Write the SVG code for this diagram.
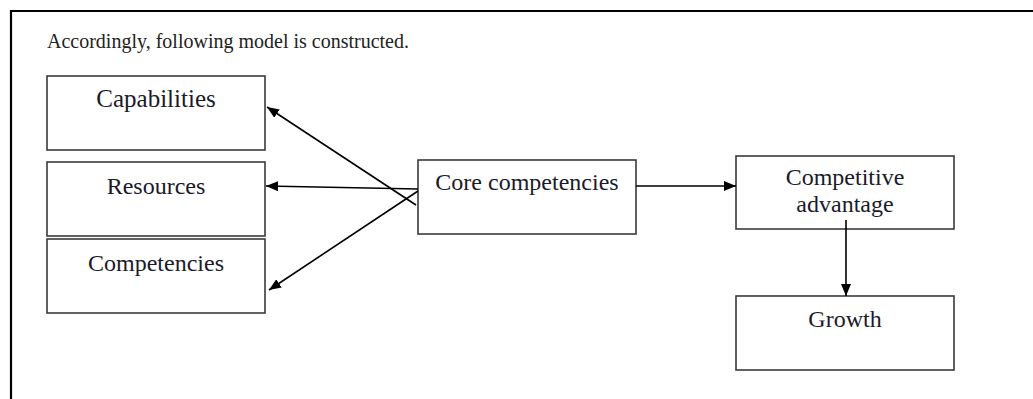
<svg xmlns="http://www.w3.org/2000/svg" width="1033" height="399" viewBox="0 0 1033 399">
<style>
.box{fill:#fff;stroke:#3a3a3a;stroke-width:1.6}
.lbl{font-family:"Liberation Serif","Times New Roman",serif;font-size:24px;fill:#1a1a2a;text-anchor:middle}
.hdr{font-family:"Liberation Serif","Times New Roman",serif;font-size:20px;fill:#222}
.conn{stroke:#000;stroke-width:1.6;fill:none;marker-end:url(#ah)}
</style>
<defs>
<marker id="ah" markerUnits="userSpaceOnUse" markerWidth="14" markerHeight="12" refX="12" refY="5" orient="auto">
<path d="M0,0 L12,5 L0,10 Z" fill="#000"/>
</marker>
</defs>
<rect width="1033" height="399" fill="#fff"/>
<path d="M11,399 V11 H1033" fill="none" stroke="#000" stroke-width="2.2"/>
<text class="hdr" x="47" y="48">Accordingly, following model is constructed.</text>
<g id="capabilities"><rect class="box" x="47" y="76" width="218" height="74"/><text class="lbl" x="156" y="107" style="font-size:25px">Capabilities</text></g>
<g id="resources"><rect class="box" x="47" y="162" width="218" height="74"/><text class="lbl" x="156" y="194">Resources</text></g>
<g id="competencies"><rect class="box" x="47" y="239" width="218" height="74"/><text class="lbl" x="156" y="271">Competencies</text></g>
<g id="core"><rect class="box" x="418" y="160" width="218" height="74"/><text class="lbl" x="527" y="190">Core competencies</text></g>
<g id="competitive"><rect class="box" x="736" y="156" width="218" height="73"/><text class="lbl" x="845" y="185">Competitive</text><text class="lbl" x="845" y="212">advantage</text></g>
<g id="growth"><rect class="box" x="736" y="296" width="218" height="74"/><text class="lbl" x="845" y="327">Growth</text></g>
<g id="connectors">
<line class="conn" x1="416" y1="205" x2="267" y2="107"/>
<line class="conn" x1="418" y1="189" x2="266" y2="186"/>
<line class="conn" x1="418" y1="191" x2="269" y2="290"/>
<line class="conn" x1="636" y1="186" x2="736" y2="186"/>
<line class="conn" x1="846" y1="220" x2="846" y2="296"/>
</g>
</svg>
